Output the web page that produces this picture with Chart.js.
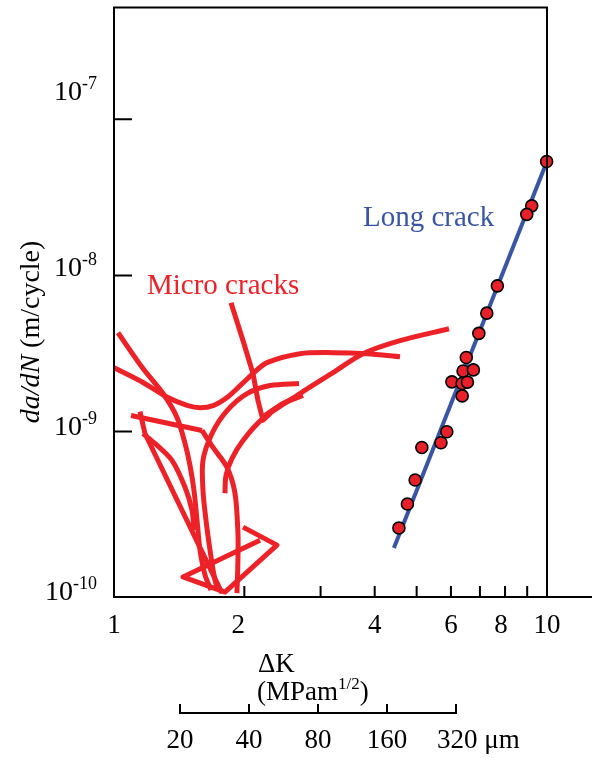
<!DOCTYPE html>
<html>
<head>
<meta charset="utf-8">
<script src="https://cdn.jsdelivr.net/npm/chart.js@4.4.1/dist/chart.umd.min.js"></script>
<style>
html, body { margin: 0; padding: 0; background: #fff; }
canvas { display: block; }
</style>
</head>
<body>
<canvas id="myChart" width="592" height="758"></canvas>
<script>
// long crack: measured points (dK in MPa m^1/2, da/dN in m/cycle)
var long_dk = [9.98, 9.22, 8.98, 7.68, 7.26, 6.96, 6.51, 6.40, 6.76, 6.03, 6.37, 6.55, 6.37, 5.87, 5.69, 5.14, 4.96, 4.76, 4.55];
var long_rate = [5.37e-8, 2.79e-8, 2.46e-8, 8.57e-9, 5.73e-9, 4.25e-9, 2.98e-9, 2.44e-9, 2.48e-9, 2.08e-9, 2.03e-9, 2.07e-9, 1.69e-9, 9.96e-10, 8.47e-10, 7.90e-10, 4.89e-10, 3.43e-10, 2.41e-10];

// long crack: trend line
var fit_dk = [4.43, 10.0];
var fit_rate = [1.79e-10, 5.38e-8];

// micro cracks: traced curves
var micro_a_dk = [1.00, 1.167, 1.332, 1.475, 1.58, 1.70, 1.824, 1.95, 2.094, 2.256, 2.689, 3.205, 3.839, 4.576];
var micro_a_rate = [2.56e-9, 2.06e-9, 1.65e-9, 1.47e-9, 1.42e-9, 1.47e-9, 1.65e-9, 1.95e-9, 2.35e-9, 2.76e-9, 3.15e-9, 3.20e-9, 3.15e-9, 3.01e-9];
var micro_b_dk = [1.804, 1.814, 1.873, 1.986, 2.208, 2.689, 3.205, 3.758, 4.576, 5.938];
var micro_b_rate = [4.02e-10, 5.23e-10, 6.72e-10, 8.76e-10, 1.21e-9, 1.75e-9, 2.38e-9, 3.15e-9, 3.82e-9, 4.55e-9];
var micro_c_dk = [2.232, 2.456, 2.732];
var micro_c_rate = [1.265e-9, 1.51e-9, 1.70e-9];
var micro_d_dk = [2.675, 2.293, 2.029, 1.824, 1.684, 1.605, 1.605, 1.631, 1.666, 1.702, 1.729];
var micro_d_rate = [2.03e-9, 1.97e-9, 1.75e-9, 1.36e-9, 9.71e-10, 6.53e-10, 4.20e-10, 2.70e-10, 1.74e-10, 1.20e-10, 9.93e-11];
var micro_e_dk = [1.863, 1.986, 2.094, 2.150, 2.208, 2.293];
var micro_e_rate = [6.67e-9, 3.82e-9, 2.35e-9, 1.58e-9, 1.18e-9, 1.30e-9];
var micro_f_dk = [1.0215, 1.167, 1.298, 1.398, 1.459, 1.498, 1.530, 1.555, 1.580, 1.623, 1.675];
var micro_f_rate = [4.29e-9, 2.53e-9, 1.75e-9, 1.23e-9, 8.38e-10, 6.06e-10, 4.20e-10, 2.70e-10, 1.74e-10, 1.20e-10, 9.64e-11];
var micro_g_dk = [1.095, 1.597];
var micro_g_rate = [1.265e-9, 1.015e-9];
var micro_h_dk = [1.148, 1.179, 1.776];
var micro_h_rate = [1.34e-9, 9.71e-10, 9.22e-11];
var micro_i_dk = [1.167, 1.243, 1.361, 1.459, 1.514, 1.530];
var micro_i_rate = [9.71e-10, 8.38e-10, 6.53e-10, 4.39e-10, 3.13e-10, 2.33e-10];
var micro_j_dk = [1.597, 1.693, 1.824, 1.903, 1.933, 1.933, 1.923];
var micro_j_rate = [1.015e-9, 7.90e-10, 5.89e-10, 4.02e-10, 2.23e-10, 1.50e-10, 9.22e-11];
var micro_k_dk = [1.986, 2.379, 1.804, 1.443, 2.174];
var micro_k_rate = [2.44e-10, 1.87e-10, 9.36e-11, 1.17e-10, 2.01e-10];

// axes
var x_labels = [1, 2, 4, 6, 8, 10];
var x_minor = [2, 3, 4, 5, 6, 7, 8, 9, 10];
var y_ticks = [1e-7, 1e-8, 1e-9, 1e-10];
var y_exps = ['-7', '-8', '-9', '-10'];
var size_ticks = [20, 40, 80, 160, 320];

var RED = '#ec2228';
var BLUE = '#3a55a4';
var FONT = "'Liberation Serif', 'Times New Roman', serif";

function pts(xs, ys) {
	var out = [];
	for (var i = 0; i < xs.length; i++)
		out.push({x: xs[i], y: ys[i]});
	return out;
}

function micro(xs, ys, tension) {
	return {
		data: pts(xs, ys),
		showLine: true,
		borderColor: RED,
		borderWidth: 5,
		borderCapStyle: 'butt',
		borderJoinStyle: 'round',
		tension: tension,
		pointRadius: 0,
		fill: false,
		order: 2
	};
}

/* frame, ticks and all text */
var decor = {
	id: 'decor',
	afterDatasetsDraw: function(chart) {
		var ctx = chart.ctx;
		var a = chart.chartArea;
		var xs = chart.scales.x;
		var ys = chart.scales.y;
		ctx.save();

		ctx.strokeStyle = '#000';
		ctx.lineWidth = 2;
		ctx.beginPath();
		ctx.moveTo(a.left, a.top); ctx.lineTo(a.right + 1, a.top);
		ctx.moveTo(a.left, a.top - 1); ctx.lineTo(a.left, a.bottom + 1);
		ctx.moveTo(a.right, a.top - 1); ctx.lineTo(a.right, a.bottom);
		ctx.moveTo(a.left - 1, a.bottom); ctx.lineTo(chart.width, a.bottom);
		for (var i = 0; i < 3; i++) {
			var ty = ys.getPixelForValue(y_ticks[i]);
			ctx.moveTo(a.left, ty); ctx.lineTo(a.left + 18, ty);
		}
		x_minor.forEach(function(v) {
			var tx = xs.getPixelForValue(v);
			ctx.moveTo(tx, a.bottom); ctx.lineTo(tx, a.bottom - 11);
		});
		ctx.stroke();

		ctx.fillStyle = '#000';
		ctx.textBaseline = 'alphabetic';

		// y tick labels, 10^n
		var yShift = [-19, 1, 4, 12];
		for (var i = 0; i < y_ticks.length; i++) {
			var by = ys.getPixelForValue(y_ticks[i]) + yShift[i];
			ctx.font = '18px ' + FONT;
			var we = ctx.measureText(y_exps[i]).width;
			ctx.font = '28px ' + FONT;
			var wb = ctx.measureText('10').width;
			var right = 97;
			ctx.textAlign = 'left';
			ctx.fillText('10', right - we - wb, by);
			ctx.font = '18px ' + FONT;
			ctx.fillText(y_exps[i], right - we, by - 11);
		}

		// x tick labels
		ctx.font = '27px ' + FONT;
		ctx.textAlign = 'center';
		x_labels.forEach(function(v) {
			ctx.fillText(String(v), xs.getPixelForValue(v) - (v == 2 ? 6 : v == 8 ? 4 : 0), 633);
		});

		// x title
		ctx.textAlign = 'left';
		ctx.font = '27px ' + FONT;
		ctx.fillText('\u0394K', 258, 672);
		ctx.fillText('(MPam', 257, 700);
		var wm = ctx.measureText('(MPam').width;
		ctx.font = '17px ' + FONT;
		ctx.fillText('1/2', 257 + wm, 689);
		var wh = ctx.measureText('1/2').width;
		ctx.font = '27px ' + FONT;
		ctx.fillText(')', 257 + wm + wh, 700);

		// crack length scale
		var s0 = 180, s1 = 456, ly = 713;
		function sx(v) {
			return s0 + (s1 - s0) * Math.log(v / size_ticks[0]) / Math.log(size_ticks[size_ticks.length - 1] / size_ticks[0]);
		}
		ctx.lineWidth = 2;
		ctx.beginPath();
		ctx.moveTo(s0, ly); ctx.lineTo(s1, ly);
		size_ticks.forEach(function(v) {
			ctx.moveTo(sx(v), ly + 1); ctx.lineTo(sx(v), ly - 9);
		});
		ctx.stroke();
		ctx.font = '27px ' + FONT;
		ctx.textAlign = 'center';
		size_ticks.forEach(function(v, i) {
			if (i == size_ticks.length - 1) {
				ctx.textAlign = 'left';
				ctx.fillText(v + ' \u03bcm', sx(v) - 19, 748);
			} else {
				ctx.fillText(String(v), sx(v), 748);
			}
		});

		// y title, rotated
		ctx.save();
		ctx.translate(39, 332);
		ctx.rotate(-Math.PI / 2);
		ctx.font = 'italic 28px ' + FONT;
		var w1 = ctx.measureText('da/dN').width;
		ctx.font = '28px ' + FONT;
		var w2 = ctx.measureText(' (m/cycle)').width;
		var x0 = -(w1 + w2) / 2;
		ctx.textAlign = 'left';
		ctx.font = 'italic 28px ' + FONT;
		ctx.fillText('da/dN', x0, 0);
		ctx.font = '28px ' + FONT;
		ctx.fillText(' (m/cycle)', x0 + w1, 0);
		ctx.restore();

		// annotations
		ctx.textAlign = 'left';
		ctx.font = '29px ' + FONT;
		ctx.fillStyle = RED;
		ctx.fillText('Micro cracks', 147, 294);
		ctx.fillStyle = BLUE;
		ctx.fillText('Long crack', 363, 226);

		ctx.restore();
	}
};

var ctx = document.getElementById('myChart').getContext('2d');
var chart = new Chart(ctx, {
	type: 'scatter',
	data: {
		datasets: [
			{
				data: pts(long_dk, long_rate),
				pointRadius: 6,
				pointBackgroundColor: '#e8202a',
				pointBorderColor: '#000',
				pointBorderWidth: 1.6,
				showLine: false,
				clip: false,
				order: 0
			},
			{
				data: pts(fit_dk, fit_rate),
				showLine: true,
				borderColor: BLUE,
				borderWidth: 4,
				pointRadius: 0,
				order: 1
			},
			micro(micro_a_dk, micro_a_rate, 0.3),
			micro(micro_b_dk, micro_b_rate, 0.3),
			micro(micro_c_dk, micro_c_rate, 0.3),
			micro(micro_d_dk, micro_d_rate, 0.3),
			micro(micro_e_dk, micro_e_rate, 0),
			micro(micro_f_dk, micro_f_rate, 0.3),
			micro(micro_g_dk, micro_g_rate, 0),
			micro(micro_h_dk, micro_h_rate, 0),
			micro(micro_i_dk, micro_i_rate, 0.3),
			micro(micro_j_dk, micro_j_rate, 0.3),
			micro(micro_k_dk, micro_k_rate, 0)
		]
	},
	options: {
		responsive: false,
		animation: false,
		layout: { padding: { left: 114, right: 45, top: 6, bottom: 161 } },
		scales: {
			x: { type: 'logarithmic', min: 1, max: 10, display: false },
			y: { type: 'logarithmic', min: 8.70e-11, max: 5.196e-7, display: false }
		},
		plugins: {
			legend: { display: false },
			tooltip: { enabled: false }
		}
	},
	plugins: [decor]
});
</script>
</body>
</html>
